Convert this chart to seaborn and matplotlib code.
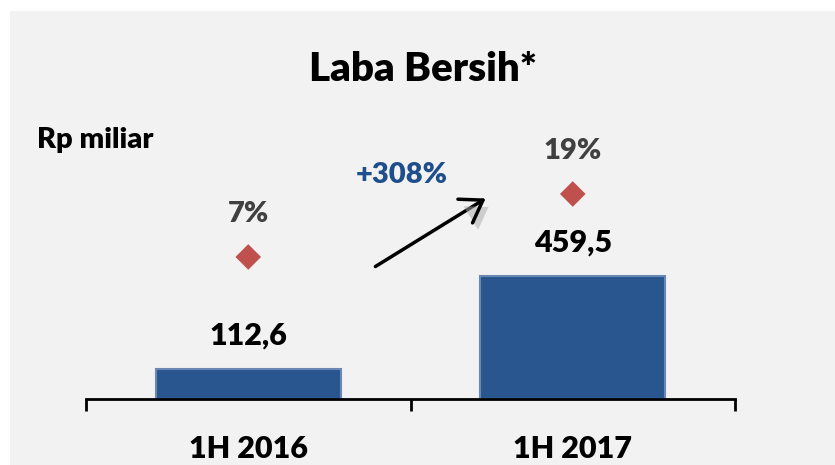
import matplotlib
matplotlib.use('Agg')
import matplotlib.pyplot as plt
import matplotlib.patheffects as pe
from matplotlib.patches import Rectangle, FancyArrowPatch
import seaborn as sns
import numpy as np
import pandas as pd

# data
periods = ['1H 2016', '1H 2017']
laba = [112.6, 459.5]          # Rp miliar
margin = [7, 19]               # %
growth_label = '+308%'

sns.set_theme(style='white')
plt.rcParams['font.family'] = ['Lato', 'DejaVu Sans']
BOLD = 'heavy'

W, H = 835, 465
fig = plt.figure(figsize=(W / 100, H / 100), dpi=100)
fig.patch.set_facecolor('white')
# grey panel behind the chart
fig.patches.append(Rectangle((10 / W, 0), 1, 1 - 11 / H, transform=fig.transFigure,
                             facecolor='#f2f2f2', edgecolor='none', zorder=-10))

ax = fig.add_axes([86 / W, (H - 399) / H, (735 - 86) / W, (399 - 100) / H])
ax.patch.set_alpha(0)

df = pd.DataFrame({'periode': periods, 'laba': laba, 'margin': margin})

sns.barplot(data=df, x='periode', y='laba', color='#2a5690', width=0.57,
            edgecolor='#6a88b3', linewidth=1.5, saturation=1, ax=ax, zorder=2)
ax.set_xlim(-0.5, 1.5)
ax.set_ylim(0, (399 - 100) / 0.268)

# value labels over the bars
for i, v in enumerate(df['laba']):
    ax.annotate(f'{v:.1f}'.replace('.', ','), xy=(i, v), xytext=(0, 24),
                textcoords='offset points', ha='center', va='center',
                fontsize=22, fontweight=BOLD, color='black')

# margin diamonds on a second axis
ax2 = ax.twinx()
sns.scatterplot(x=np.arange(len(df)), y=df['margin'], marker='D', s=170,
                color='#c0504d', edgecolor='none', ax=ax2, zorder=3)
ax2.set_ylim(-20.05, 36.9)
for i, m in enumerate(df['margin']):
    ax2.annotate(f'{m}%', xy=(i, m), xytext=(0, 31), textcoords='offset points',
                 ha='center', va='center', fontsize=21, fontweight=BOLD,
                 color='#404040')

for a in (ax, ax2):
    for s in ['top', 'right', 'left']:
        a.spines[s].set_visible(False)
    a.set_yticks([])
    a.set_ylabel('')
ax2.spines['bottom'].set_visible(False)
ax.spines['bottom'].set_color('black')
ax.spines['bottom'].set_linewidth(2)

ax.set_xlabel('')
ax.set_xticks([0, 1])
ax.set_xticklabels(periods, fontsize=22, fontweight=BOLD, color='black')
ax.tick_params(axis='x', which='major', length=0, pad=26)
ax.set_xticks([-0.5, 0.5, 1.5], minor=True)
ax.tick_params(axis='x', which='minor', direction='out', length=8.5, width=2,
               color='black', bottom=True)

# titles and decorations
fig.text(423 / W, 1 - 69 / H, 'Laba Bersih*', ha='center', va='center',
         fontsize=29, fontweight=BOLD, color='black')
fig.text(37 / W, 1 - 140 / H, 'Rp miliar', ha='left', va='center',
         fontsize=21, fontweight=BOLD, color='black')
fig.text(402 / W, 1 - 175 / H, growth_label, ha='center', va='center',
         fontsize=21, fontweight=BOLD, color='#1f4e8c')
fig.patches.append(FancyArrowPatch(
    (373 / W, 1 - 268 / H), (488 / W, 1 - 197 / H), transform=fig.transFigure,
    arrowstyle='->,head_length=6,head_width=4', color='black', lw=2.5,
    mutation_scale=2.5, zorder=5,
    path_effects=[pe.SimplePatchShadow(offset=(4, -5), shadow_rgbFace='#aaaaaa', alpha=0.5),
                  pe.Normal()]))

fig.savefig('out.png', dpi=100, facecolor=fig.get_facecolor())
